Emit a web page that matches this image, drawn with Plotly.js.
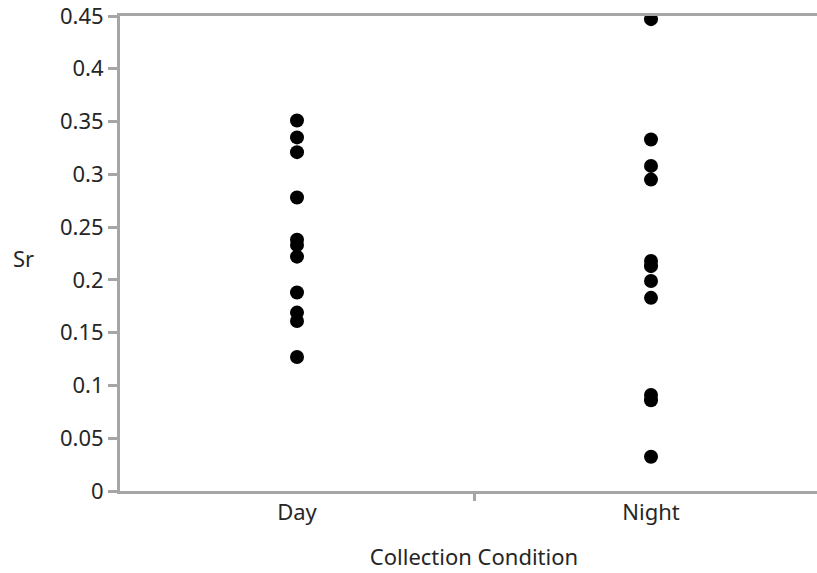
<!DOCTYPE html>
<html>
<head>
<meta charset="utf-8">
<script src="https://cdn.plot.ly/plotly-3.0.1.min.js"></script>
<style>
html,body{margin:0;padding:0;overflow:hidden;background:#fff;}
#chart{width:840px;height:583px;margin-top:-10px;}
</style>
</head>
<body>
<div id="chart"></div>
<script>
const categories = ["Day", "Night"];
const dayValues = [0.351, 0.335, 0.321, 0.278, 0.238, 0.233, 0.222, 0.188, 0.169, 0.161, 0.127];
const nightValues = [0.447, 0.333, 0.308, 0.295, 0.218, 0.213, 0.199, 0.183, 0.091, 0.086, 0.0325];
const yTicks = [0, 0.05, 0.1, 0.15, 0.2, 0.25, 0.3, 0.35, 0.4, 0.45];
const yTickText = ["0", "0.05", "0.1", "0.15", "0.2", "0.25", "0.3", "0.35", "0.4", "0.45"];

const font = "Noto Sans, Open Sans, sans-serif";
const axisColor = "#a6a6a6";
const textColor = "#262626";
const fs = 22;

const traces = [
  {
    type: "scatter", mode: "markers",
    x: dayValues.map(() => categories[0]), y: dayValues,
    marker: {color: "#000", size: 14},
    showlegend: false, hoverinfo: "y"
  },
  {
    type: "scatter", mode: "markers",
    x: nightValues.map(() => categories[1]), y: nightValues,
    marker: {color: "#000", size: 14},
    showlegend: false, hoverinfo: "y"
  }
];

const layout = {
  width: 840, height: 583,
  margin: {l: 120, r: 12, t: 26, b: 82},
  paper_bgcolor: "#fff", plot_bgcolor: "#fff",
  font: {family: font, size: fs, color: textColor},
  xaxis: {
    type: "category", categoryarray: categories, categoryorder: "array",
    range: [-0.5, 1.5],
    showline: true, linecolor: axisColor, linewidth: 3, mirror: true,
    ticks: "", showgrid: false, zeroline: false,
    tickfont: {family: font, size: fs, color: textColor},
    title: {text: "Collection Condition", font: {family: font, size: fs, color: textColor}, standoff: 25}
  },
  xaxis2: {
    overlaying: "x", range: [-0.5, 1.5], tickvals: [0.5], showticklabels: false,
    ticks: "outside", ticklen: 9, tickwidth: 3, tickcolor: axisColor,
    showline: false, showgrid: false, zeroline: false, anchor: "y"
  },
  yaxis: {
    range: [0, 0.45], tickvals: yTicks, ticktext: yTickText,
    showline: true, linecolor: axisColor, linewidth: 3,
    ticks: "outside", ticklen: 9, tickwidth: 3, tickcolor: axisColor,
    showgrid: false, zeroline: false,
    tickfont: {family: font, size: fs, color: textColor}
  },
  annotations: [
    {text: "Sr", xref: "paper", yref: "paper", x: -0.137, y: 0.49, xanchor: "center", yanchor: "middle",
     showarrow: false, font: {family: font, size: fs, color: textColor}}
  ]
};

traces.push({type: "scatter", x: [], y: [], xaxis: "x2", yaxis: "y", showlegend: false});

Plotly.newPlot("chart", traces, layout, {displayModeBar: false, staticPlot: true});
</script>
</body>
</html>
